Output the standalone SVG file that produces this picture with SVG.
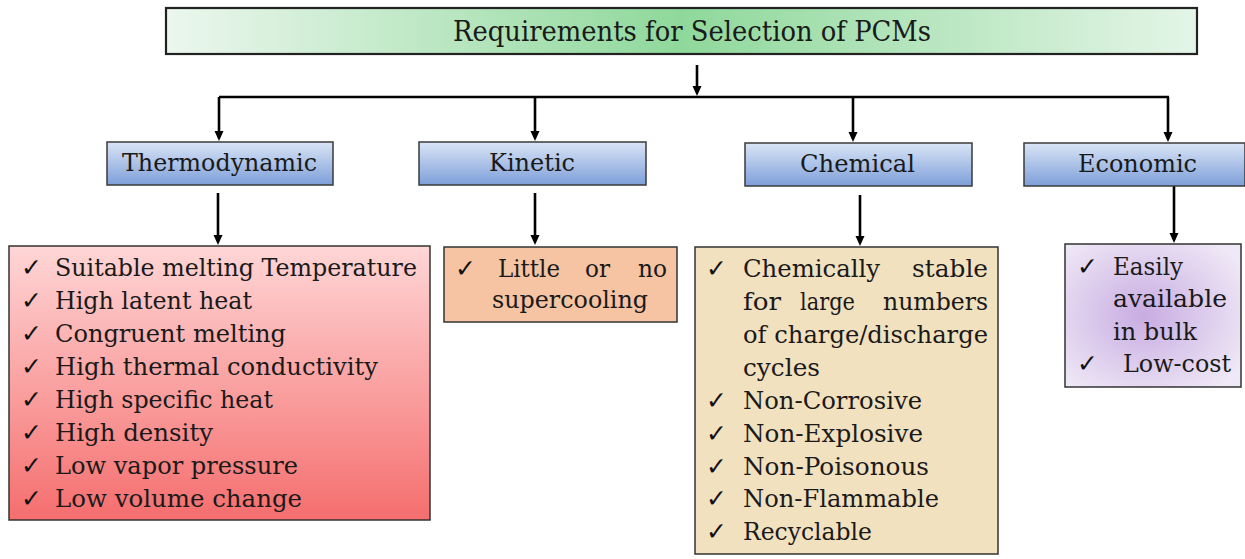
<svg xmlns="http://www.w3.org/2000/svg" width="1245" height="559" viewBox="0 0 1245 559">
  <defs>
    <linearGradient id="gTitle" x1="0" y1="0" x2="1" y2="0">
      <stop offset="0" stop-color="#ecf7ee"/>
      <stop offset="0.5" stop-color="#8fd89b"/>
      <stop offset="1" stop-color="#e4f5e7"/>
    </linearGradient>
    <linearGradient id="gBlue" x1="0" y1="0" x2="0" y2="1">
      <stop offset="0" stop-color="#dae5f6"/>
      <stop offset="1" stop-color="#7d9fd9"/>
    </linearGradient>
    <linearGradient id="gRed" x1="0" y1="0" x2="0" y2="1">
      <stop offset="0" stop-color="#ffd6d6"/>
      <stop offset="1" stop-color="#f56e6e"/>
    </linearGradient>
    <radialGradient id="gPurple" cx="0.45" cy="0.5" r="0.65">
      <stop offset="0" stop-color="#c8ace2"/>
      <stop offset="1" stop-color="#efe8f6"/>
    </radialGradient>
    <marker id="arr" markerUnits="userSpaceOnUse" markerWidth="11" markerHeight="10" refX="4" refY="5" orient="auto">
      <path d="M0,0.5 L10,5 L0,9.5 z" fill="#000"/>
    </marker>
    <style>
      .txt { font-family: "DejaVu Serif", "Liberation Serif", serif; font-size: 25px; fill: #1a1a1a; }
      .title { font-family: "DejaVu Serif", "Liberation Serif", serif; font-size: 27px; fill: #1a1a1a; }
      .chk { font-family: "DejaVu Sans", sans-serif; font-size: 25px; fill: #111; }
      .cat { stroke: #3a3a3a; stroke-width: 1.5; fill: url(#gBlue); }
      .box { stroke: #333; stroke-width: 1.5; }
      .conn { stroke: #000; stroke-width: 2.6; fill: none; }
    </style>
  </defs>

  <g id="title">
    <rect x="166" y="8" width="1031" height="46" fill="url(#gTitle)" stroke="#222" stroke-width="2.2"/>
    <text class="title" x="453" y="41" textLength="478" lengthAdjust="spacingAndGlyphs">Requirements for Selection of PCMs</text>
  </g>

  <g id="connectors">
    <line class="conn" x1="697" y1="65" x2="697" y2="90" marker-end="url(#arr)"/>
    <line class="conn" x1="219" y1="97" x2="1169" y2="97" stroke-width="3"/>
    <line class="conn" x1="219" y1="97" x2="219" y2="135" marker-end="url(#arr)"/>
    <line class="conn" x1="535" y1="97" x2="535" y2="135" marker-end="url(#arr)"/>
    <line class="conn" x1="853" y1="97" x2="853" y2="136" marker-end="url(#arr)"/>
    <line class="conn" x1="1168" y1="97" x2="1168" y2="136" marker-end="url(#arr)"/>
    <line class="conn" x1="218" y1="193" x2="218" y2="239" marker-end="url(#arr)"/>
    <line class="conn" x1="535" y1="193" x2="535" y2="239" marker-end="url(#arr)"/>
    <line class="conn" x1="860" y1="195" x2="860" y2="240" marker-end="url(#arr)"/>
    <line class="conn" x1="1174" y1="186" x2="1174" y2="237" marker-end="url(#arr)"/>
  </g>

  <g id="thermodynamic">
    <rect class="cat" x="107" y="142" width="226" height="43"/>
    <text class="txt" x="122" y="171" textLength="195" lengthAdjust="spacingAndGlyphs">Thermodynamic</text>
  </g>
  <g id="kinetic">
    <rect class="cat" x="419" y="142" width="227" height="43"/>
    <text class="txt" x="489" y="171" textLength="86" lengthAdjust="spacingAndGlyphs">Kinetic</text>
  </g>
  <g id="chemical">
    <rect class="cat" x="745" y="143" width="227" height="43"/>
    <text class="txt" x="800" y="172" textLength="115" lengthAdjust="spacingAndGlyphs">Chemical</text>
  </g>
  <g id="economic">
    <rect class="cat" x="1024" y="143" width="221" height="43"/>
    <text class="txt" x="1078" y="172" textLength="119" lengthAdjust="spacingAndGlyphs">Economic</text>
  </g>

  <g id="thermodynamic-list">
    <rect class="box" x="9" y="246" width="421" height="274" fill="url(#gRed)"/>
    <text class="chk" x="21" y="276">✓</text>
    <text class="txt" x="55" y="276" textLength="362" lengthAdjust="spacingAndGlyphs">Suitable melting Temperature</text>
    <text class="chk" x="21" y="309">✓</text>
    <text class="txt" x="55" y="309" textLength="197" lengthAdjust="spacingAndGlyphs">High latent heat</text>
    <text class="chk" x="21" y="342">✓</text>
    <text class="txt" x="55" y="342" textLength="231" lengthAdjust="spacingAndGlyphs">Congruent melting</text>
    <text class="chk" x="21" y="375">✓</text>
    <text class="txt" x="55" y="375" textLength="323" lengthAdjust="spacingAndGlyphs">High thermal conductivity</text>
    <text class="chk" x="21" y="408">✓</text>
    <text class="txt" x="55" y="408" textLength="218" lengthAdjust="spacingAndGlyphs">High specific heat</text>
    <text class="chk" x="21" y="441">✓</text>
    <text class="txt" x="55" y="441" textLength="158" lengthAdjust="spacingAndGlyphs">High density</text>
    <text class="chk" x="21" y="474">✓</text>
    <text class="txt" x="55" y="474" textLength="243" lengthAdjust="spacingAndGlyphs">Low vapor pressure</text>
    <text class="chk" x="21" y="507">✓</text>
    <text class="txt" x="55" y="507" textLength="247" lengthAdjust="spacingAndGlyphs">Low volume change</text>
  </g>

  <g id="kinetic-list">
    <rect class="box" x="444" y="247" width="233" height="75" fill="#f6c4a2"/>
    <text class="chk" x="455" y="277">✓</text>
    <text class="txt" x="498" y="277" textLength="62" lengthAdjust="spacingAndGlyphs">Little</text>
    <text class="txt" x="585" y="277" textLength="25" lengthAdjust="spacingAndGlyphs">or</text>
    <text class="txt" x="638" y="277" textLength="29" lengthAdjust="spacingAndGlyphs">no</text>
    <text class="txt" x="492" y="308" textLength="156" lengthAdjust="spacingAndGlyphs">supercooling</text>
  </g>

  <g id="chemical-list">
    <rect class="box" x="695" y="247" width="303" height="307" fill="#f2e1bf"/>
    <text class="chk" x="706" y="277">✓</text>
    <text class="txt" x="743" y="277" textLength="137" lengthAdjust="spacingAndGlyphs">Chemically</text>
    <text class="txt" x="912" y="277" textLength="76" lengthAdjust="spacingAndGlyphs">stable</text>
    <text class="txt" x="743" y="310" textLength="38" lengthAdjust="spacingAndGlyphs">for</text>
    <text class="txt" x="800" y="310" textLength="55" lengthAdjust="spacingAndGlyphs">large</text>
    <text class="txt" x="883" y="310" textLength="105" lengthAdjust="spacingAndGlyphs">numbers</text>
    <text class="txt" x="743" y="343" textLength="245" lengthAdjust="spacingAndGlyphs">of charge/discharge</text>
    <text class="txt" x="743" y="376" textLength="77" lengthAdjust="spacingAndGlyphs">cycles</text>
    <text class="chk" x="706" y="409">✓</text>
    <text class="txt" x="743" y="409" textLength="179" lengthAdjust="spacingAndGlyphs">Non-Corrosive</text>
    <text class="chk" x="706" y="442">✓</text>
    <text class="txt" x="743" y="442" textLength="180" lengthAdjust="spacingAndGlyphs">Non-Explosive</text>
    <text class="chk" x="706" y="475">✓</text>
    <text class="txt" x="743" y="475" textLength="186" lengthAdjust="spacingAndGlyphs">Non-Poisonous</text>
    <text class="chk" x="706" y="507">✓</text>
    <text class="txt" x="743" y="507" textLength="196" lengthAdjust="spacingAndGlyphs">Non-Flammable</text>
    <text class="chk" x="706" y="540">✓</text>
    <text class="txt" x="743" y="540" textLength="129" lengthAdjust="spacingAndGlyphs">Recyclable</text>
  </g>

  <g id="economic-list">
    <rect class="box" x="1065" y="244" width="176" height="143" fill="url(#gPurple)"/>
    <text class="chk" x="1077" y="275">✓</text>
    <text class="txt" x="1113" y="275" textLength="70" lengthAdjust="spacingAndGlyphs">Easily</text>
    <text class="txt" x="1113" y="307" textLength="114" lengthAdjust="spacingAndGlyphs">available</text>
    <text class="txt" x="1113" y="340" textLength="84" lengthAdjust="spacingAndGlyphs">in bulk</text>
    <text class="chk" x="1077" y="372">✓</text>
    <text class="txt" x="1123" y="372" textLength="108" lengthAdjust="spacingAndGlyphs">Low-cost</text>
  </g>
</svg>
